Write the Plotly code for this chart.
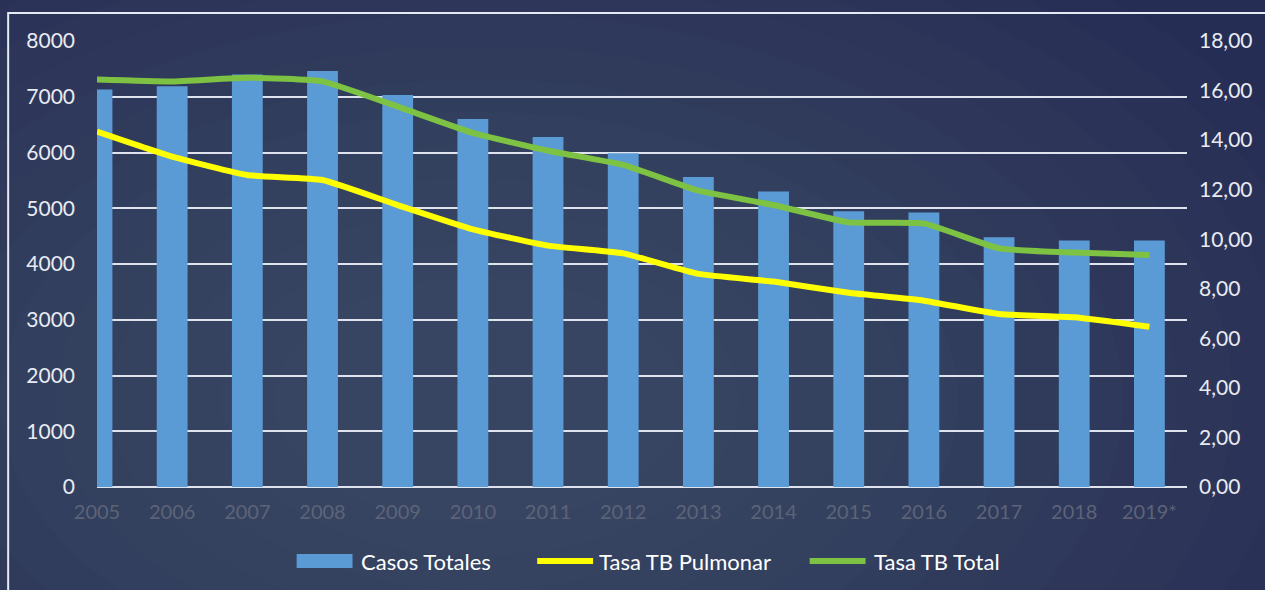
import plotly.graph_objects as go

years = ["2005", "2006", "2007", "2008", "2009", "2010", "2011", "2012",
         "2013", "2014", "2015", "2016", "2017", "2018", "2019*"]
casos_totales = [7130, 7190, 7400, 7460, 7030, 6600, 6280, 5985, 5560,
                 5300, 4945, 4925, 4480, 4420, 4420]
tasa_pulmonar = [14.34, 13.33, 12.59, 12.39, 11.38, 10.40, 9.74, 9.43, 8.60,
                 8.29, 7.84, 7.52, 6.98, 6.85, 6.47]
tasa_total = [16.45, 16.37, 16.52, 16.37, 15.35, 14.29, 13.57, 13.00, 11.96,
              11.38, 10.68, 10.64, 9.63, 9.46, 9.36]

series_names = ["Casos Totales", "Tasa TB Pulmonar", "Tasa TB Total"]
series_colors = ["#5b9bd5", "#ffff00", "#7dc242"]

left_ticks = [0, 1000, 2000, 3000, 4000, 5000, 6000, 7000, 8000]
right_ticks = [0, 2, 4, 6, 8, 10, 12, 14, 16, 18]
right_ticktext = ["0,00", "2,00", "4,00", "6,00", "8,00", "10,00", "12,00",
                  "14,00", "16,00", "18,00"]

W, H = 1265, 590
L, R, T, B = 97, 1189, 41, 487


def px_x(px):
    return (px - L) / (R - L)


def px_y(py):
    return (B - py) / (B - T)


FONT = "Lato"
BG = "#262d54"

fig = go.Figure()
fig.add_trace(go.Bar(
    x=years, y=casos_totales, name=series_names[0],
    marker=dict(color=series_colors[0], line=dict(width=0)), yaxis="y"))
fig.add_trace(go.Scatter(
    x=years, y=tasa_pulmonar, name=series_names[1], mode="lines",
    line=dict(color=series_colors[1], width=6, shape="spline", smoothing=0.4),
    yaxis="y2"))
fig.add_trace(go.Scatter(
    x=years, y=tasa_total, name=series_names[2], mode="lines",
    line=dict(color=series_colors[2], width=6, shape="spline", smoothing=0.4),
    yaxis="y2"))

shapes = []
# soft radial background glow
cx, cy = 480, 400
n = 14
for i in range(n):
    rx = 920 - i * 55
    ry = rx * 0.6
    shapes.append(dict(
        type="circle", xref="paper", yref="paper", layer="below",
        x0=px_x(cx - rx), x1=px_x(cx + rx), y0=px_y(cy + ry), y1=px_y(cy - ry),
        fillcolor="#5a6b88", opacity=0.047, line=dict(width=0)))
# white border frame
shapes.append(dict(
    type="rect", xref="paper", yref="paper", layer="above",
    x0=px_x(8), x1=px_x(1300), y0=px_y(620), y1=px_y(13),
    line=dict(color="#e6eaf2", width=2), fillcolor="rgba(0,0,0,0)"))

# legend (drawn as shapes + text to match the wide keys)
leg_y = 561
key_spans = [(297, 353), (535, 597), (808, 870)]
text_x = [359, 598, 873]
annotations = []
for i, (a, b) in enumerate(key_spans):
    if i == 0:
        shapes.append(dict(
            type="rect", xref="paper", yref="paper",
            x0=px_x(a), x1=px_x(b), y0=px_y(leg_y + 7), y1=px_y(leg_y - 7),
            fillcolor=series_colors[i], line=dict(width=0)))
    else:
        shapes.append(dict(
            type="line", xref="paper", yref="paper",
            x0=px_x(a + 3), x1=px_x(b - 3), y0=px_y(leg_y), y1=px_y(leg_y),
            line=dict(color=series_colors[i], width=6)))
    annotations.append(dict(
        text=series_names[i], xref="paper", yref="paper",
        x=px_x(text_x[i]), y=px_y(leg_y), xanchor="left", yanchor="middle",
        showarrow=False, font=dict(family=FONT, size=22, color="#ffffff")))

fig.update_layout(
    width=W, height=H,
    margin=dict(l=L, r=W - R, t=T, b=H - B),
    paper_bgcolor=BG,
    plot_bgcolor="rgba(0,0,0,0)",
    bargap=0.59,
    showlegend=False,
    font=dict(family=FONT, color="#ffffff"),
    shapes=shapes,
    annotations=annotations,
    xaxis=dict(
        type="category", range=[0, 14.5], showgrid=False, zeroline=False,
        showline=False, ticks="", tickfont=dict(family=FONT, size=20,
                                                  color="#5d6377"),
        ticklabelstandoff=11, fixedrange=True),
    yaxis=dict(
        range=[0, 8000], tickvals=left_ticks, ticktext=[str(v) for v in left_ticks],
        showgrid=True, gridcolor="#dfe3ee", gridwidth=2,
        zeroline=True, zerolinecolor="#dfe3ee", zerolinewidth=2,
        showline=False, ticks="", ticklabelstandoff=21,
        tickfont=dict(family=FONT, size=21, color="#e8ebf2")),
    yaxis2=dict(
        range=[0, 18], overlaying="y", side="right", tickvals=right_ticks,
        ticktext=right_ticktext, showgrid=False, zeroline=False,
        showline=False, ticks="", ticklabelstandoff=11,
        tickfont=dict(family=FONT, size=21, color="#e8ebf2")),
)

fig.write_html(
    "out.html",
    config={"displayModeBar": False},
    post_script=("document.body.style.margin='0';"
                 "document.body.style.overflow='hidden';"
                 "document.body.style.background='" + BG + "';"))
